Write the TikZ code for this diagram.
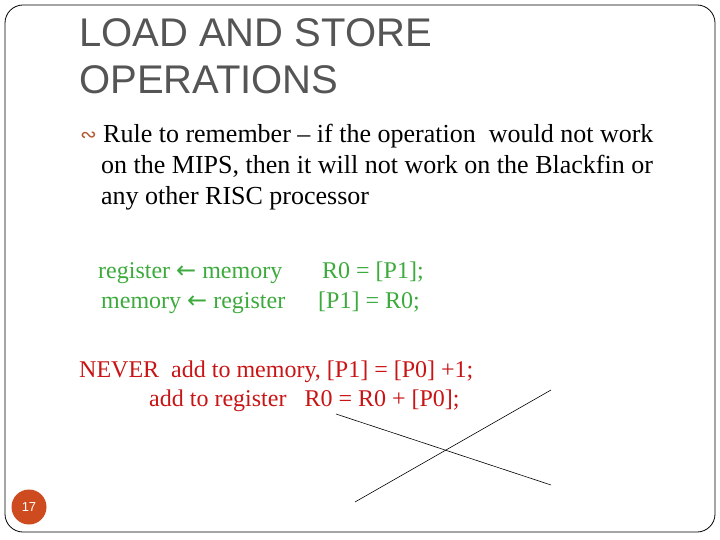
\documentclass[tikz,border=0pt]{standalone}
\usepackage{fontspec}
\setmainfont{Liberation Serif}
\newfontfamily\titlefont{Liberation Sans}
\newfontfamily\symfont{DejaVu Sans}
\definecolor{tgray}{RGB}{85,85,85}
\definecolor{ggreen}{RGB}{60,170,60}
\definecolor{rred}{RGB}{200,20,20}
\definecolor{orn}{RGB}{205,75,30}
\definecolor{brn}{RGB}{180,90,50}
\newcommand{\larr}{{\symfont ←}}
\begin{document}
\begin{tikzpicture}[x=1pt,y=-1pt,
  txt/.style={anchor=base west,inner sep=0pt,font=\fontsize{26}{26}\selectfont},
  grn/.style={anchor=base west,inner sep=0pt,text=ggreen,font=\fontsize{24}{24}\selectfont},
  red/.style={anchor=base west,inner sep=0pt,text=rred,font=\fontsize{24}{24}\selectfont}]
\useasboundingbox (0,0) rectangle (720,540);
\draw[line width=0.8pt,rounded corners=18pt] (5,5) rectangle (715,532);
\node[anchor=base west,inner sep=0pt,text=tgray,font=\titlefont\fontsize{40}{40}\selectfont] (t1) at (79,47) {LOAD AND STORE};
\node[anchor=base west,inner sep=0pt,text=tgray,font=\titlefont\fontsize{40}{40}\selectfont] (t2) at (79,94) {OPERATIONS};
\node[anchor=base west,inner sep=0pt,text=brn,font=\symfont\fontsize{20}{20}\selectfont] (b) at (80,142) {∾};
\node[txt] (l1) at (103,143) {Rule to remember -- if the operation\ \ would not work};
\node[txt] (l2) at (101,174) {on the MIPS, then it will not work on the Blackfin or};
\node[txt] (l3) at (101,205) {any other RISC processor};
\node[grn] (g1) at (98,278) {register \larr{} memory};
\node[grn] (g2) at (101,308) {memory \larr{} register};
\node[grn] (g3) at (322,278) {R0 = [P1];};
\node[grn] (g4) at (318,308) {[P1] = R0;};
\node[red] (r1) at (79,377) {NEVER\ \ add to memory, [P1] = [P0] +1;};
\node[red] (r2) at (149,406) {add to register\ \ \ R0 = R0 + [P0];};
\coordinate (a1) at (336,414); \coordinate (a2) at (551,485);
\coordinate (c1) at (355,502); \coordinate (c2) at (551,390);
\draw[line width=0.6pt] (a1) -- (a2);
\draw[line width=0.6pt] (c1) -- (c2);
\node[circle,fill=orn,minimum size=35pt,inner sep=0pt,text=white,font=\titlefont\fontsize{13}{13}\selectfont] (pg) at (29,507) {17};
\end{tikzpicture}
\end{document}
